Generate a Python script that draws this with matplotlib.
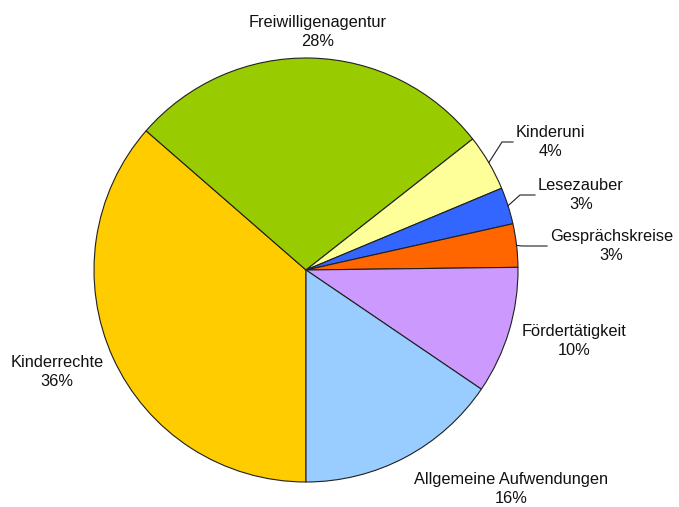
import numpy as np
import matplotlib.pyplot as plt

plt.rcParams['font.family'] = ['Liberation Sans', 'DejaVu Sans']

# slice data, clockwise from 6 o'clock
names = ['Kinderrechte', 'Freiwilligenagentur', 'Kinderuni', 'Lesezauber',
         'Gesprächskreise', 'Fördertätigkeit', 'Allgemeine Aufwendungen']
shares = [36.4, 28.0, 4.3, 2.8, 3.3, 9.7, 15.5]
colors = ['#FFCC00', '#99CC00', '#FFFF99', '#3366FF', '#FF6600', '#CC99FF', '#99CCFF']

W, H = 679, 507
cx, cy, R = 306, H - 270, 212

# label placement (pixel coords from top-left): x, y, horizontal alignment
label_pos = [(57, 372, 'center'), (318, 32, 'center'), (516, 142, 'left'),
             (538, 195, 'left'), (550, 246, 'left'), (574, 341, 'center'),
             (511, 489, 'center')]
# leader elbows for the small slices (None = no leader)
leader_elbow = [None, None, (502, 142), (520, 195), (522, 246), None, None]

fig = plt.figure(figsize=(W / 100, H / 100), dpi=100)
ax = fig.add_axes([0, 0, 1, 1])

wedges, _ = ax.pie(shares, colors=colors, startangle=-90, counterclock=False,
                   center=(cx, cy), radius=R,
                   wedgeprops=dict(edgecolor='#202020', linewidth=0.8))

for w, name, val, (lx, ly, ha), elbow in zip(wedges, names, shares, label_pos, leader_elbow):
    ax.text(lx, H - ly, f'{name}\n{round(val):.0f}%', ha=ha, va='center',
            multialignment='center', fontsize=11.8, linespacing=1.38, color='#111111')
    if elbow is not None:
        mid = np.deg2rad((w.theta1 + w.theta2) / 2)
        ex, ey = cx + R * np.cos(mid), cy + R * np.sin(mid)
        ax.plot([ex, elbow[0], lx - 3], [ey, H - elbow[1], H - ly],
                color='#202020', linewidth=0.8)

ax.set_xlim(0, W)
ax.set_ylim(0, H)
ax.set_aspect('equal')
ax.axis('off')

fig.savefig('out.png', dpi=100)
